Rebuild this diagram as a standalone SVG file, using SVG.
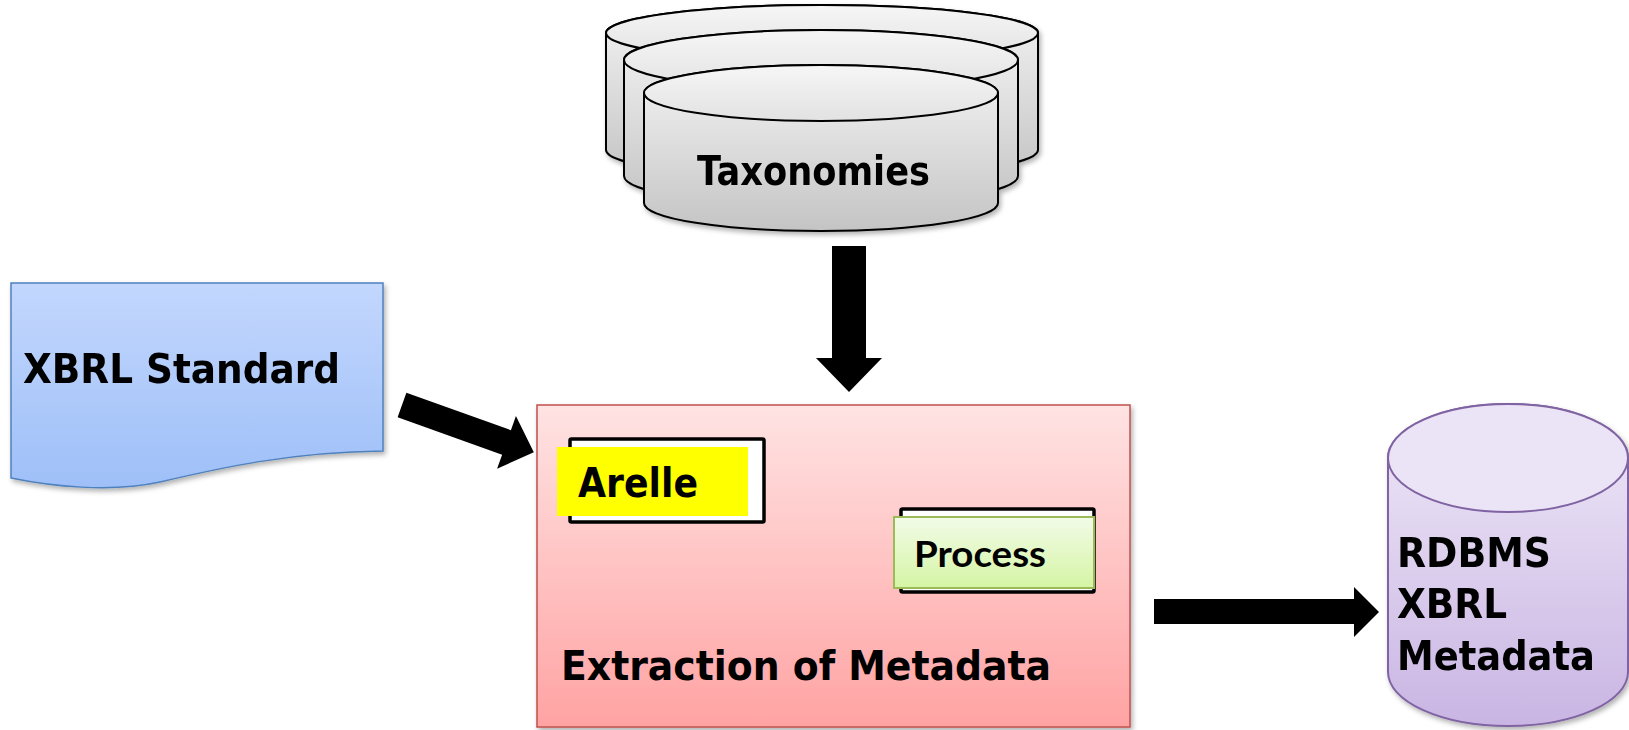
<svg xmlns="http://www.w3.org/2000/svg" width="1629" height="730" viewBox="0 0 1629 730">
<defs>
  <linearGradient id="gGrey" x1="0" y1="0" x2="0" y2="1">
    <stop offset="0" stop-color="#f4f4f4"/>
    <stop offset="1" stop-color="#c4c4c4"/>
  </linearGradient>
  <linearGradient id="gGreyTop" x1="0" y1="0" x2="0" y2="1">
    <stop offset="0" stop-color="#f6f6f6"/>
    <stop offset="1" stop-color="#e2e2e2"/>
  </linearGradient>
  <linearGradient id="gBlue" x1="0" y1="0" x2="0" y2="1">
    <stop offset="0" stop-color="#c3d7fd"/>
    <stop offset="1" stop-color="#9ebff8"/>
  </linearGradient>
  <linearGradient id="gRed" x1="0" y1="0" x2="0" y2="1">
    <stop offset="0" stop-color="#ffe3e3"/>
    <stop offset="1" stop-color="#ffa3a3"/>
  </linearGradient>
  <linearGradient id="gGreen" x1="0" y1="0" x2="0" y2="1">
    <stop offset="0" stop-color="#f2fbe8"/>
    <stop offset="1" stop-color="#d5f5a4"/>
  </linearGradient>
  <linearGradient id="gPurple" x1="0" y1="0" x2="0" y2="1">
    <stop offset="0" stop-color="#efe9f8"/>
    <stop offset="1" stop-color="#c9b5e3"/>
  </linearGradient>
  <filter id="sh" x="-10%" y="-10%" width="130%" height="130%">
    <feDropShadow dx="2" dy="3" stdDeviation="2.5" flood-color="#000" flood-opacity="0.3"/>
  </filter>
</defs>
<style>
  .t { font-family: "DejaVu Sans", "Noto Sans", sans-serif; font-weight: bold; font-size: 40px; fill: #000; }
  .p { font-family: Lato, "Open Sans", sans-serif; font-weight: bold; font-size: 36px; fill: #000; }
  .cyl { fill: url(#gGrey); stroke: #000; stroke-width: 2; }
  .cyltop { fill: url(#gGreyTop); stroke: #000; stroke-width: 2; }
  .arrow { fill: #000; }
</style>

<g id="taxonomies" filter="url(#sh)">
  <path class="cyl" d="M606,33 V150 A216,28 0 0 0 1038,150 V33 A216,28 0 0 0 606,33 Z"/>
  <ellipse class="cyltop" cx="822" cy="33" rx="216" ry="28"/>
  <path class="cyl" d="M624,60 V176 A197,30 0 0 0 1018,176 V60 A197,30 0 0 0 624,60 Z"/>
  <ellipse class="cyltop" cx="821" cy="60" rx="197" ry="30"/>
  <path class="cyl" d="M644,93 V203 A177,28 0 0 0 998,203 V93 A177,28 0 0 0 644,93 Z"/>
  <ellipse class="cyltop" cx="821" cy="93" rx="177" ry="28"/>
  <text class="t" x="697" y="185" textLength="233" lengthAdjust="spacingAndGlyphs">Taxonomies</text>
</g>

<g id="xbrl-standard" filter="url(#sh)">
  <path d="M11,283 H383 V451 C290,452 220,468 160,482 C110,493 50,486 11,478 Z" fill="url(#gBlue)" stroke="#4f81bd" stroke-width="1.5"/>
  <text class="t" x="23" y="383" textLength="317" lengthAdjust="spacingAndGlyphs">XBRL Standard</text>
</g>

<g id="extraction">
  <rect x="537" y="405" width="593" height="322" fill="url(#gRed)" stroke="#c0504d" stroke-width="1.5" filter="url(#sh)"/>
  <text class="t" x="561" y="680" textLength="490" lengthAdjust="spacingAndGlyphs">Extraction of Metadata</text>
</g>

<g id="arelle">
  <rect x="570" y="439" width="194" height="83" fill="#fff" stroke="#000" stroke-width="3.5" rx="1.5"/>
  <rect x="557" y="447" width="191" height="69" fill="#ffff00"/>
  <text class="t" x="578" y="497" textLength="120" lengthAdjust="spacingAndGlyphs">Arelle</text>
</g>

<g id="process">
  <rect x="901" y="509" width="193" height="83" fill="#fff" stroke="#000" stroke-width="3.5" rx="1.5"/>
  <rect x="894" y="517" width="200" height="71" fill="url(#gGreen)" stroke="#9bbb59" stroke-width="2"/>
  <text class="p" x="914" y="567" textLength="132" lengthAdjust="spacingAndGlyphs">Process</text>
</g>

<g id="rdbms" filter="url(#sh)">
  <path d="M1388,458 V672 A120,54 0 0 0 1628,672 V458 A120,54 0 0 0 1388,458 Z" fill="url(#gPurple)" stroke="#8064a2" stroke-width="2"/>
  <ellipse cx="1508" cy="458" rx="120" ry="54" fill="#ebe3f6" stroke="#8064a2" stroke-width="2"/>
  <text class="t" x="1397" y="567" textLength="154" lengthAdjust="spacingAndGlyphs">RDBMS</text>
  <text class="t" x="1397" y="618" textLength="110" lengthAdjust="spacingAndGlyphs">XBRL</text>
  <text class="t" x="1397" y="670" textLength="198" lengthAdjust="spacingAndGlyphs">Metadata</text>
</g>

<g id="connectors">
  <polygon class="arrow" points="832,246 866,246 866,358 882,358 849,392 816,358 832,358"/>
  <polygon class="arrow" transform="translate(402,405) rotate(19.7)" points="0,-13 111,-13 111,-28 140,0 111,28 111,13 0,13"/>
  <polygon class="arrow" points="1154,599 1354,599 1354,587 1379,612 1354,637 1354,624 1154,624"/>
</g>
</svg>
